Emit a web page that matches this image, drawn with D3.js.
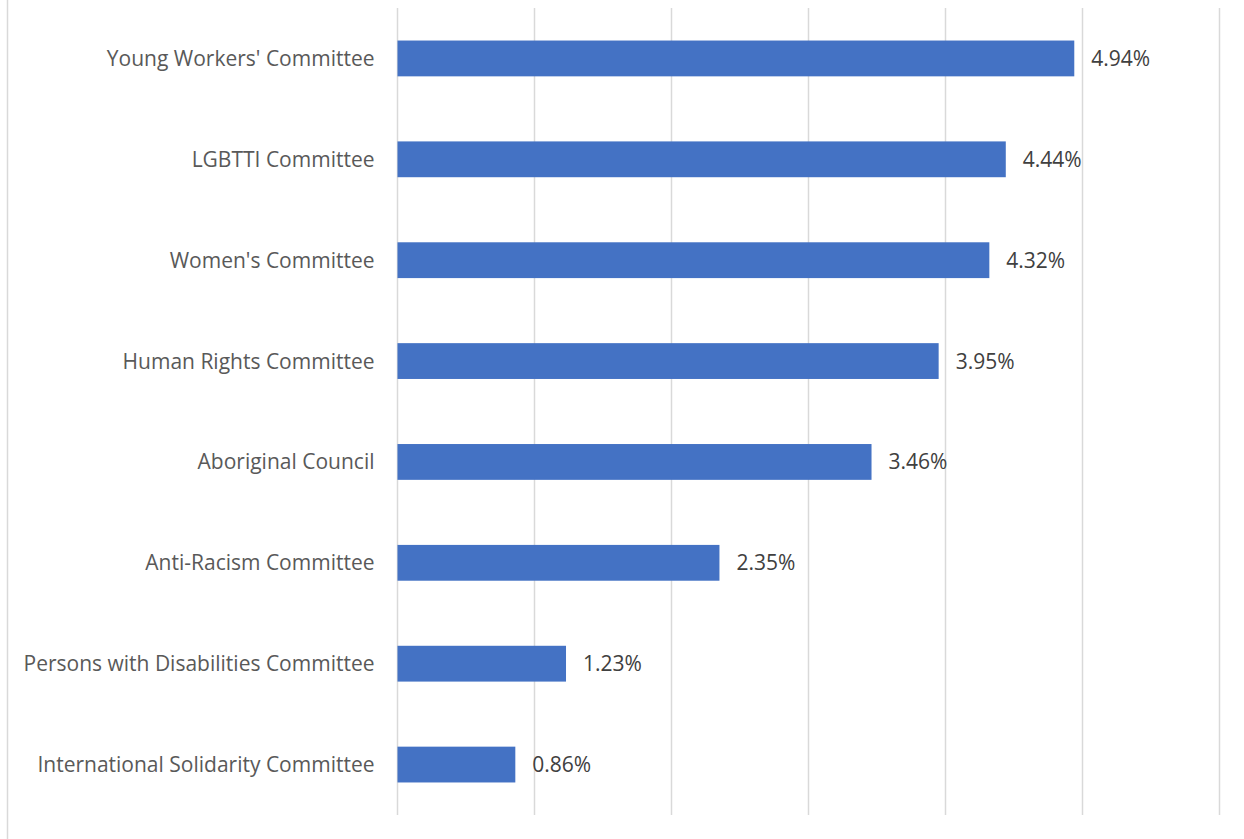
<!DOCTYPE html>
<html>
<head>
<meta charset="utf-8">
<script src="https://cdn.jsdelivr.net/npm/d3@7"></script>
<style>
  html, body { margin: 0; padding: 0; background: #fff; }
  svg { display: block; }
</style>
</head>
<body>
<svg id="chart" width="1244" height="839"></svg>
<script>
// Committee names, top to bottom
const categories = [
  "Young Workers' Committee",
  "LGBTTI Committee",
  "Women's Committee",
  "Human Rights Committee",
  "Aboriginal Council",
  "Anti-Racism Committee",
  "Persons with Disabilities Committee",
  "International Solidarity Committee"
];
// Percentage for each committee
const values = [4.94, 4.44, 4.32, 3.95, 3.46, 2.35, 1.23, 0.86];
// Gridline positions (percent)
const gridTicks = [0, 1, 2, 3, 4, 5, 6];

const svg = d3.select("#chart");
const font = "'Open Sans', sans-serif";

const plot = { left: 397.5, right: 1219.5, top: 8, bottom: 815 };

const x = d3.scaleLinear().domain([0, 6]).range([plot.left, plot.right]);
const y = d3.scaleBand().domain(categories).range([plot.top, plot.bottom]).paddingInner(0.645).paddingOuter(0.3225);

// outer frame edge on the left
svg.append("line")
  .attr("x1", 7.5).attr("x2", 7.5).attr("y1", 0).attr("y2", 839)
  .attr("stroke", "#d9d9d9").attr("stroke-width", 1.5);

// vertical gridlines
svg.append("g")
  .selectAll("line")
  .data(gridTicks)
  .join("line")
  .attr("x1", d => x(d)).attr("x2", d => x(d))
  .attr("y1", plot.top).attr("y2", plot.bottom)
  .attr("stroke", "#d9d9d9").attr("stroke-width", 1.5);

// bars
svg.append("g")
  .selectAll("rect")
  .data(values)
  .join("rect")
  .attr("x", x(0))
  .attr("y", (d, i) => y(categories[i]))
  .attr("width", d => x(d) - x(0))
  .attr("height", y.bandwidth())
  .attr("fill", "#4472c4");

// category labels
svg.append("g")
  .selectAll("text")
  .data(categories)
  .join("text")
  .attr("x", plot.left - 23)
  .attr("y", d => y(d) + y.bandwidth() / 2)
  .attr("dy", "0.36em")
  .attr("text-anchor", "end")
  .attr("font-family", font)
  .attr("font-size", 21)
  .attr("fill", "#595959")
  .text(d => d);

// value labels
svg.append("g")
  .selectAll("text")
  .data(values)
  .join("text")
  .attr("x", d => x(d) + 17)
  .attr("y", (d, i) => y(categories[i]) + y.bandwidth() / 2)
  .attr("dy", "0.36em")
  .attr("font-family", font)
  .attr("font-size", 21)
  .attr("fill", "#404040")
  .text(d => d.toFixed(2) + "%");
</script>
</body>
</html>
